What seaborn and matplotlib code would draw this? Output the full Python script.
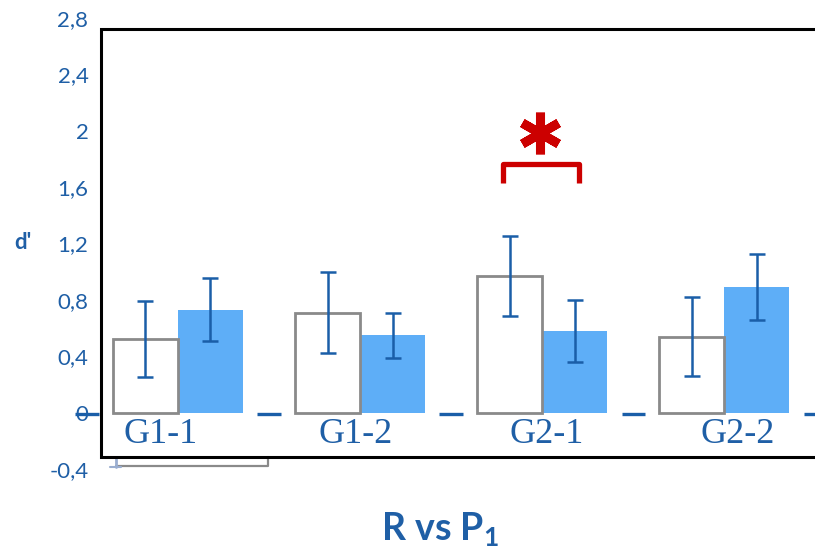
import matplotlib
matplotlib.use("Agg")
import matplotlib.pyplot as plt
import seaborn as sns
import pandas as pd
import numpy as np

# ---- data ----
groups = ["G1-1", "G1-2", "G2-1", "G2-2"]
conditions = ["R", "P1"]
means_R = [0.52, 0.71, 0.97, 0.54]
err_R = [0.27, 0.29, 0.285, 0.28]
means_P1 = [0.73, 0.55, 0.58, 0.89]
err_P1 = [0.225, 0.16, 0.22, 0.235]
yticks = [-0.4, 0.0, 0.4, 0.8, 1.2, 1.6, 2.0, 2.4, 2.8]
ytick_labels = ["-0,4", "0", "0,4", "0,8", "1,2", "1,6", "2", "2,4", "2,8"]
sig_pair = 2  # G2-1 significant

TEXT_BLUE = "#1f5fa6"
ERR_BLUE = "#1a5ea8"
BAR_BLUE = "#5eaef7"

df = pd.DataFrame({
    "group": groups * 2,
    "cond": [conditions[0]] * 4 + [conditions[1]] * 4,
    "value": means_R + means_P1,
})

sns.set_theme(style="white")
plt.rcParams["font.family"] = ["Lato", "DejaVu Sans"]
plt.rcParams["mathtext.fontset"] = "custom"
plt.rcParams["mathtext.bf"] = "Lato:bold"
plt.rcParams["mathtext.rm"] = "Lato"

fig = plt.figure(figsize=(8.15, 5.56), dpi=100)
ax = fig.add_axes([101 / 815, (556 - 469) / 556, 714 / 815, 451 / 556])

bar_w = 0.714
sns.barplot(data=df, x="group", y="value", hue="cond", order=groups,
            hue_order=conditions, palette=["white", BAR_BLUE], width=bar_w,
            errorbar=None, legend=False, ax=ax, saturation=1)

n = len(groups)
for i, p in enumerate(ax.patches[:2 * n]):
    if i < n:
        p.set_edgecolor("#8a8a8a")
        p.set_linewidth(2.0)
        p.set_facecolor("white")
        p.set_zorder(2)
    else:
        p.set_edgecolor("none")
        p.set_zorder(1)

xpos = np.arange(n)
half = bar_w / 4
ax.errorbar(xpos - half, means_R, yerr=err_R, fmt="none", ecolor=ERR_BLUE,
            elinewidth=1.8, capsize=6, capthick=1.8, zorder=5)
ax.errorbar(xpos + half, means_P1, yerr=err_P1, fmt="none", ecolor=ERR_BLUE,
            elinewidth=1.8, capsize=6, capthick=1.8, zorder=5)

# small baseline dashes between groups
for b in np.arange(-1, n) + 0.5:
    ax.plot([b - 0.065, b + 0.065], [-0.012, -0.012], color=ERR_BLUE, lw=2.4,
            solid_capstyle="butt", clip_on=False, zorder=6)

ax.set_ylim(-0.4, 2.8)
ax.set_xlim(-0.422, 3.497)
for s in ax.spines.values():
    s.set_visible(False)

ax.set_yticks(yticks)
ax.set_yticklabels(ytick_labels)
ax.tick_params(axis="y", length=0, pad=9, labelsize=16, labelcolor=TEXT_BLUE)
ax.set_xticks([])
ax.set_xlabel("")
ax.set_ylabel("")

# frame
fr_top, fr_bot = 2.72, -0.318
ax.plot([ax.get_xlim()[1] + 0.2, -0.422, -0.422, ax.get_xlim()[1] + 0.2],
        [fr_top, fr_top, fr_bot, fr_bot], color="black", lw=2.2,
        clip_on=False, zorder=7, solid_joinstyle="miter")

# ghost gray bracket under the frame
ax.plot([-0.34, 0.497, 0.497], [-0.382, -0.382, fr_bot], color="#8a8a8a",
        lw=1.6, clip_on=False, zorder=3)
ax.plot([-0.34, -0.34], [-0.385, -0.33], color="#9aaed0", lw=2,
        clip_on=False, zorder=3)
ax.plot([-0.37, -0.31], [-0.385, -0.385], color="#9aaed0", lw=1.5,
        clip_on=False, zorder=3)

# group labels inside frame
label_offsets = [-0.095, -0.027, 0.022, 0.07]
for i, g in enumerate(groups):
    ax.text(i + label_offsets[i], -0.035, g, ha="center", va="top",
            fontsize=26, color=TEXT_BLUE, family="Liberation Serif", zorder=8)

# significance bracket
bx0, bx1 = sig_pair - 0.215, sig_pair + 0.2
ax.plot([bx0, bx0, bx1, bx1], [1.63, 1.765, 1.765, 1.63], color="#cc0000",
        lw=3.8, solid_joinstyle="round", solid_capstyle="butt", zorder=8)
ax.plot([sig_pair - 0.01], [1.985], marker=(6, 2, 0), markersize=30,
        markeredgewidth=6.5, color="#cc0000", zorder=8)

fig.text(14 / 815, 1 - 243 / 556, "d'", fontsize=16, fontweight="bold",
         color=TEXT_BLUE, va="center", ha="left")
fig.text(440 / 815, 1 - 530 / 556, r"R vs P$_\mathbf{1}$", fontsize=27,
         fontweight="bold", color=TEXT_BLUE, ha="center", va="center")

fig.savefig("out.png", dpi=100)
